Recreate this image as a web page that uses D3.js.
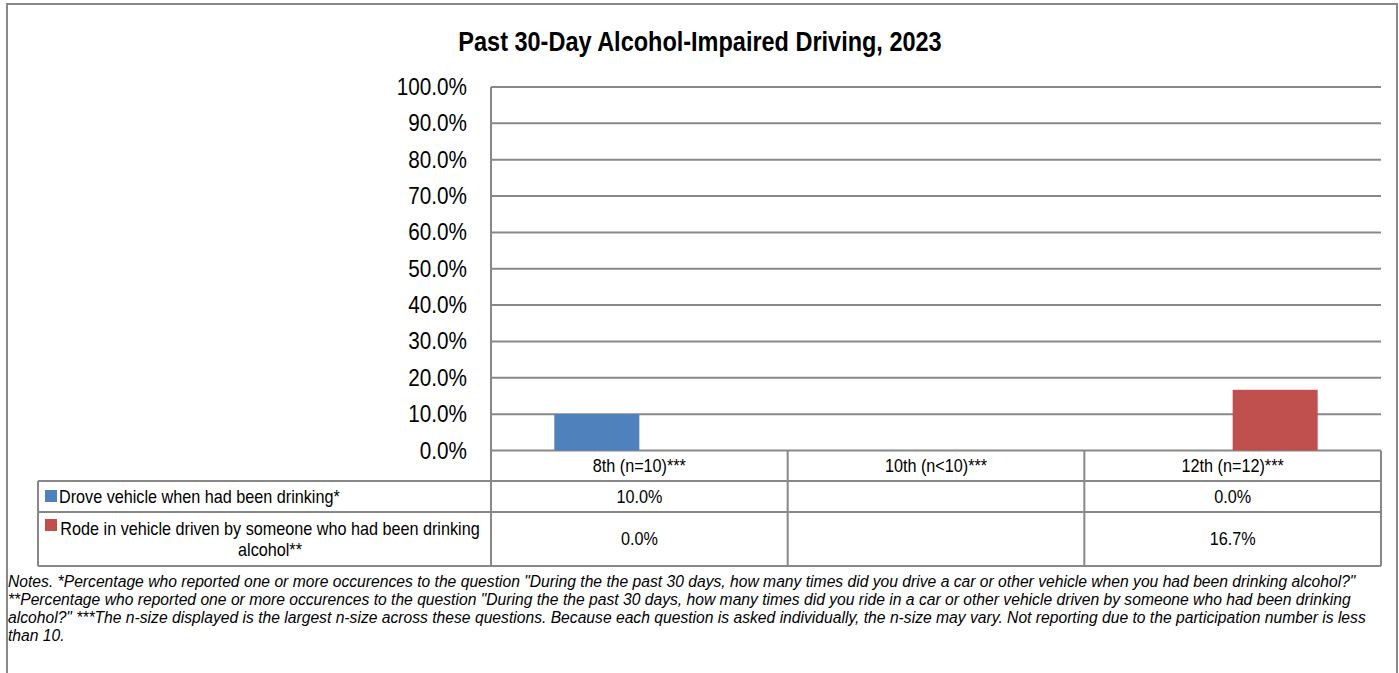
<!DOCTYPE html>
<html>
<head>
<meta charset="utf-8">
<script src="https://cdn.jsdelivr.net/npm/d3@7"></script>
<style>
	body { margin: 0; background: #ffffff; }
	svg { display: block; font-family: "Liberation Sans", Arial, sans-serif; }
</style>
</head>
<body>
<script>
// chart data
var categories = ["8th (n=10)***", "10th (n<10)***", "12th (n=12)***"];
var seriesNames = ["Drove vehicle when had been drinking*",
	"Rode in vehicle driven by someone who had been drinking alcohol**"];
var droveValues = [10.0, null, 0.0];
var rodeValues = [0.0, null, 16.7];
var yTicks = [0, 10, 20, 30, 40, 50, 60, 70, 80, 90, 100];
var notesLines = [
	"Notes. *Percentage who reported one or more occurences to the question \"During the the past 30 days, how many times did you drive a car or other vehicle when you had been drinking alcohol?\"",
	"**Percentage who reported one or more occurences to the question \"During the the past 30 days, how many times did you ride in a car or other vehicle driven by someone who had been drinking",
	"alcohol?\"  ***The n-size displayed is the largest n-size across these questions. Because each question is asked individually, the n-size may vary. Not reporting due to the participation number is less",
	"than 10."
];

var COLOURS = ["#4F81BD", "#C0504D"];
var LINE = "#888888";

var width = 1399, height = 673;
var plotLeft = 491, plotRight = 1381, plotTop = 87, plotBottom = 450.5;
var tableLeft = 38, rowTops = [450.5, 481, 512, 566];

var svg = d3.select("body").append("svg")
	.attr("width", width)
	.attr("height", height);

// narrow text, the original font is condensed
function narrowText(parent, x, y, str, size, sx, anchor) {
	return parent.append("text")
		.attr("transform", "translate(" + x + "," + y + ") scale(" + sx + ",1)")
		.attr("text-anchor", anchor || "start")
		.attr("font-size", size + "px")
		.attr("fill", "#000")
		.text(str);
}

// outer frame
svg.append("path")
	.attr("d", "M7,673 V4 H1397 V673")
	.attr("fill", "none")
	.attr("stroke", LINE)
	.attr("stroke-width", 2);

narrowText(svg, 700, 51, "Past 30-Day Alcohol-Impaired Driving, 2023", 27, 0.87, "middle")
	.attr("font-weight", "bold");

var x = d3.scaleBand()
	.domain(categories)
	.range([plotLeft, plotRight]);

var xSub = d3.scaleBand()
	.domain([0, 1])
	.range([0, x.bandwidth()])
	.paddingInner(0)
	.paddingOuter(0.745);

var y = d3.scaleLinear()
	.domain([0, 100])
	.range([plotBottom, plotTop]);

// gridlines
svg.append("g")
	.selectAll("line")
	.data(yTicks)
	.enter().append("line")
	.attr("x1", plotLeft)
	.attr("x2", plotRight)
	.attr("y1", function(d) { return y(d); })
	.attr("y2", function(d) { return y(d); })
	.attr("stroke", LINE)
	.attr("stroke-width", 2);

// y labels
var fmt = d3.format(".1f");
var yLab = svg.append("g");
yTicks.forEach(function(t) {
	narrowText(yLab, 467, y(t) + 8, fmt(t) + "%", 23, 0.9, "end");
});

// bars
var series = [droveValues, rodeValues];
series.forEach(function(vals, s) {
	svg.append("g")
		.selectAll("rect")
		.data(vals.map(function(v, i) { return { cat: categories[i], v: v }; })
			.filter(function(d) { return d.v !== null && d.v > 0; }))
		.enter().append("rect")
		.attr("x", function(d) { return x(d.cat) + xSub(s); })
		.attr("width", xSub.bandwidth())
		.attr("y", function(d) { return y(d.v); })
		.attr("height", function(d) { return y(0) - y(d.v); })
		.attr("fill", COLOURS[s]);
});

// data table
var table = svg.append("g");

function hline(x1, x2, yy) {
	table.append("line").attr("x1", x1).attr("x2", x2).attr("y1", yy).attr("y2", yy)
		.attr("stroke", LINE).attr("stroke-width", 2);
}
function vline(xx, y1, y2) {
	table.append("line").attr("x1", xx).attr("x2", xx).attr("y1", y1).attr("y2", y2)
		.attr("stroke", LINE).attr("stroke-width", 2);
}

hline(tableLeft, plotRight, rowTops[1]);
hline(tableLeft, plotRight, rowTops[2]);
hline(tableLeft, plotRight, rowTops[3]);
vline(tableLeft, rowTops[1], rowTops[3]);
vline(plotLeft, plotTop, rowTops[3]);
categories.forEach(function(c) {
	vline(x(c) + x.bandwidth(), rowTops[0], rowTops[3]);
});

categories.forEach(function(c) {
	narrowText(table, x(c) + x.bandwidth() / 2, 472, c, 18, 0.9, "middle");
});

// legend keys
table.append("rect").attr("x", 45).attr("y", 490).attr("width", 12).attr("height", 12).attr("fill", COLOURS[0]);
table.append("rect").attr("x", 45).attr("y", 519).attr("width", 12).attr("height", 12).attr("fill", COLOURS[1]);

narrowText(table, 59, 503, seriesNames[0], 18, 0.9);

var wrapped = ["Rode in vehicle driven by someone who had been drinking", "alcohol**"];
narrowText(table, 270, 535, wrapped[0], 18, 0.9, "middle");
narrowText(table, 270, 556, wrapped[1], 18, 0.9, "middle");

var rowBaselines = [503, 545];
series.forEach(function(vals, s) {
	vals.forEach(function(v, i) {
		if (v === null) return;
		narrowText(table, x(categories[i]) + x.bandwidth() / 2, rowBaselines[s], fmt(v) + "%", 18, 0.9, "middle");
	});
});

// notes
svg.append("g")
	.selectAll("text")
	.data(notesLines)
	.enter().append("text")
	.attr("transform", function(d, i) { return "translate(8," + (587 + i * 18) + ") scale(0.95,1)"; })
	.attr("font-size", "16.5px")
	.attr("font-style", "italic")
	.attr("fill", "#000")
	.text(function(d) { return d; });
</script>
</body>
</html>
